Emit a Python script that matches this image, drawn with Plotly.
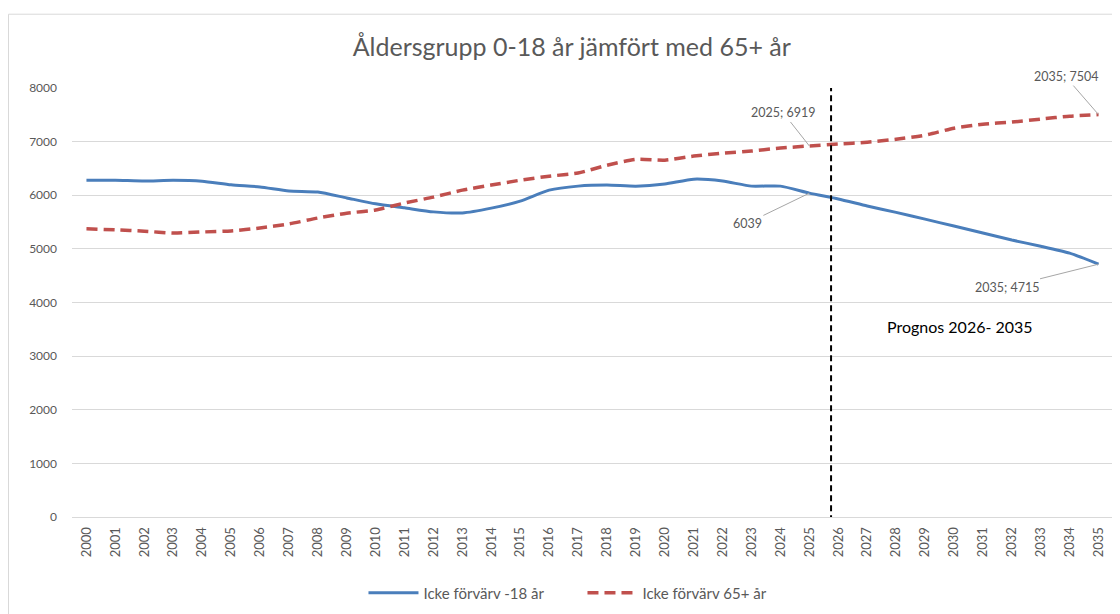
import plotly.graph_objects as go

years = list(range(2000, 2036))

# Icke förvärv -18 år (solid blue)
young = [6280, 6280, 6265, 6280, 6262, 6195, 6155, 6080, 6060, 5950,
         5840, 5765, 5690, 5670, 5760, 5890, 6095, 6170, 6190, 6170,
         6210, 6300, 6265, 6170, 6170, 6039, 5930, 5800, 5680, 5555,
         5425, 5295, 5165, 5050, 4920, 4715]

# Icke förvärv 65+ år (dashed red)
old = [5375, 5355, 5330, 5295, 5315, 5335, 5390, 5465, 5575, 5665,
       5725, 5855, 5965, 6095, 6190, 6280, 6355, 6415, 6560, 6670,
       6655, 6730, 6785, 6825, 6880, 6919, 6955, 6990, 7045, 7120,
       7250, 7325, 7365, 7420, 7475, 7504]

title = "Åldersgrupp 0-18 år jämfört med 65+ år"
font_family = "Lato, Open Sans, sans-serif"
grey = "#595959"

fig = go.Figure()

fig.add_trace(go.Scatter(
    x=years, y=young, mode="lines", name="Icke förvärv -18 år",
    line=dict(color="#4A7EBB", width=3, shape="spline", smoothing=0.6),
))
fig.add_trace(go.Scatter(
    x=years, y=old, mode="lines", name="Icke förvärv 65+ år",
    line=dict(color="#C0504D", width=3.5, dash="11px,6px", shape="spline", smoothing=0.6),
))

# forecast divider
fig.add_shape(type="line", x0=2025.75, x1=2025.75, y0=-80, y1=8000,
              xref="x", yref="y",
              line=dict(color="black", width=2, dash="6px,4px"))

# outer chart frame
for x0, y0, x1, y1 in [(-0.061, 1.172, 1.005, 1.172),
                       (-0.061, 1.172, -0.061, -0.26),
                       (1.005, 1.172, 1.005, -0.26)]:
    fig.add_shape(type="line", xref="paper", yref="paper",
                  x0=x0, y0=y0, x1=x1, y1=y1,
                  line=dict(color="#D9D9D9", width=1))

label_font = dict(family=font_family, size=12.5, color=grey)
notes = [
    (2035, 7504, "2035; 7504", -33, -38),
    (2025, 6919, "2025; 6919", -26, -33),
    (2025, 6039, "6039", -62, 30),
    (2035, 4715, "2035; 4715", -92, 23),
]
for x, y, text, ax, ay in notes:
    fig.add_annotation(x=x, y=y, text=text, showarrow=True, arrowhead=0,
                       arrowwidth=1, arrowcolor="#A6A6A6", ax=ax, ay=ay,
                       font=label_font)

fig.add_annotation(x=2030.2, y=3560, text="Prognos 2026- 2035", showarrow=False,
                   font=dict(family=font_family, size=16, color="black"))

fig.update_layout(
    width=1112, height=606,
    margin=dict(l=64, r=7, t=80, b=97, autoexpand=False),
    paper_bgcolor="white", plot_bgcolor="white",
    font=dict(family=font_family, color=grey),
    title=dict(text=title, x=0.507, xanchor="center", y=0.936, yanchor="middle",
               font=dict(family=font_family, size=25, color=grey)),
    xaxis=dict(
        range=[1999.5, 2035.5], tickmode="array", tickvals=years,
        ticktext=[str(y) for y in years], tickangle=-90,
        tickfont=dict(size=13, color=grey), showgrid=False, automargin=False,
        showline=True, linecolor="#D9D9D9", zeroline=False, ticks="",
        ticklabelstandoff=4,
    ),
    yaxis=dict(
        range=[0, 8000], dtick=1000, tickfont=dict(size=12, color=grey),
        showgrid=True, gridcolor="#D9D9D9", zeroline=False, automargin=False,
        ticklabelstandoff=14,
    ),
    legend=dict(orientation="h", x=0.28, xanchor="left", y=-0.177,
                yanchor="middle", font=dict(size=15, color=grey),
                itemwidth=50, entrywidth=154, entrywidthmode="pixels"),
    showlegend=True,
)

fig.write_html("out.html")
